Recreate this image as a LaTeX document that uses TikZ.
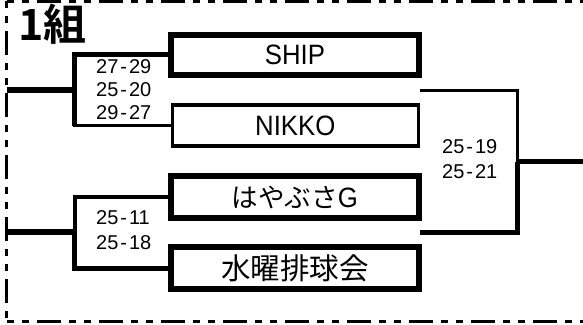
\documentclass[tikz,border=0pt]{standalone}
\usepackage{fontspec}
\setmainfont{Liberation Sans}
\newfontfamily\boxfont[FakeStretch=0.92]{Liberation Sans}
\newfontfamily\cjk{Noto Sans CJK JP}
\newfontfamily\cjkb{Noto Sans CJK JP Bold}
\newcommand\jtext[2]{{\cjk\fontsize{#1}{#1}\selectfont #2}}
\newcommand\scr[2]{#1\hspace{2pt}-\hspace{2pt}#2}
\tikzset{
  thickbox/.style={draw, line width=6pt, inner sep=0pt, minimum width=248pt, minimum height=40pt, font=\boxfont\fontsize{28}{28}\selectfont},
  thinbox/.style={draw, line width=3.3pt, inner sep=0pt, minimum width=246pt, minimum height=41pt, font=\boxfont\fontsize{28}{28}\selectfont},
  thk/.style={line width=5.5pt},
  mid/.style={line width=4pt},
  thn/.style={line width=3pt},
  score/.style={font=\fontsize{20}{23}\selectfont, align=left, inner sep=0pt, anchor=west},
  border/.style={line width=3pt, dash pattern=on 7pt off 8pt on 7pt off 8pt on 24pt off 8pt},
}
\begin{document}
\begin{tikzpicture}[x=1pt,y=-1pt]
\useasboundingbox (0,0) rectangle (583,324);
% border
\draw[border] (6.5,1.3) -- (600,1.3);
\draw[border] (6.5,1.3) -- (6.5,321);
\draw[border] (6.5,321) -- (600,321);
% title
\node[anchor=base west, inner sep=0pt, font=\cjkb\fontsize{43}{43}\selectfont] (title) at (18,40) {1組};
% team boxes
\node[thickbox] (ship) at (295,54.5) {SHIP};
\node[thinbox] (nikko) at (295.3,125.5) {NIKKO};
\node[thickbox, minimum height=41.4pt] (haya) at (295,197) {\jtext{26.5}{はやぶさ}G};
\node[thickbox, minimum height=42pt] (sui) at (295,268.3) {\jtext{29.5}{水曜排球会}};
% junctions
\coordinate (j1) at (74.5,90);
\coordinate (e1) at (6.5,90);
\coordinate (j2) at (74.5,232);
\coordinate (e2) at (6.5,232);
\coordinate (rt) at (420,90.7);
\coordinate (rb) at (420,232.7);
\coordinate (rj) at (517.5,161.7);
\coordinate (re) at (583,161.7);
% left bracket 1
\draw[thn] (nikko.west) -| (j1);
\draw[thk] (ship.west) -| (j1) -- (j1 |- nikko.west);
\draw[thk] (j1) -- (e1);
% left bracket 2
\draw[mid] (haya.west) -| (j2);
\draw[thk] (sui.west) -| (j2);
\draw[thk] (j2) -- (e2);
% right bracket
\draw[thn] (rt) -| (rj);
\draw[thk] (rb) -| (rj);
\draw[thk] (rj) -- (re);
% scores
\node[score] (s1) at (96,90) {\scr{27}{29}\\\scr{25}{20}\\\scr{29}{27}};
\node[score, font=\fontsize{20}{25}\selectfont] (s2) at (96,230.5) {\scr{25}{11}\\\scr{25}{18}};
\node[score, font=\fontsize{20}{25}\selectfont] (s3) at (442,159.5) {\scr{25}{19}\\\scr{25}{21}};
\end{tikzpicture}
\end{document}
